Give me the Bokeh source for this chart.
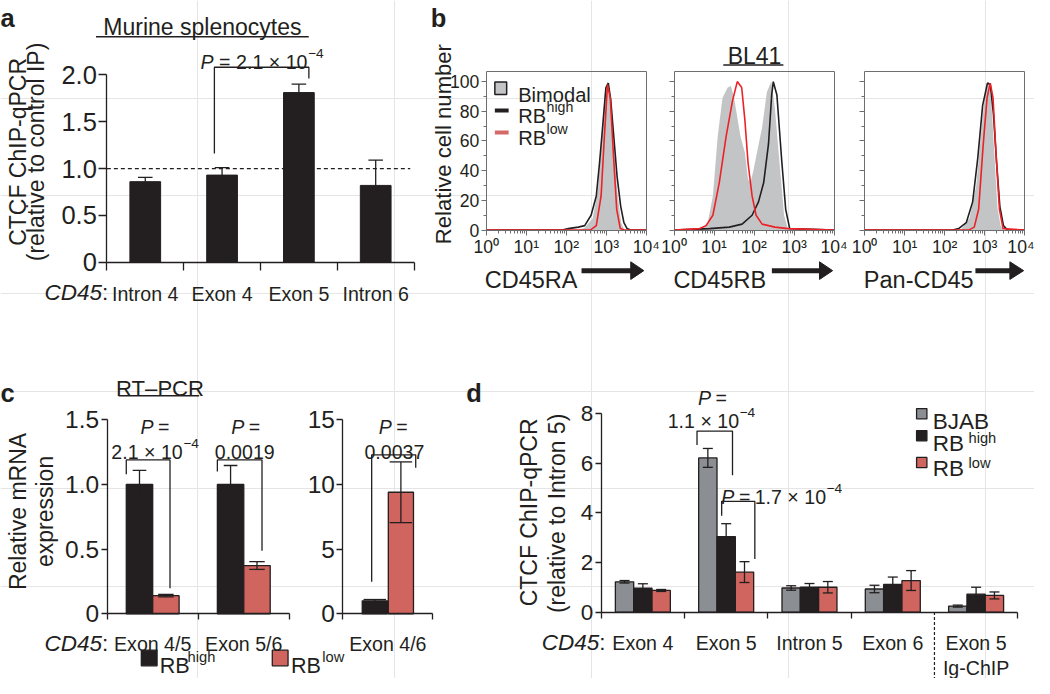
import numpy as np
from bokeh.plotting import figure
from bokeh.models import Range1d, LinearAxis, LogAxis, LogScale, FixedTicker
from bokeh.core.properties import value
from bokeh.embed import file_html
from bokeh.resources import INLINE

# ---------------- panel a : murine splenocytes CTCF ChIP ----------------
a_sites = ["Intron 4", "Exon 4", "Exon 5", "Intron 6"]
a_ctcf = [0.86, 0.93, 1.81, 0.82]
a_ctcf_err = [0.045, 0.08, 0.09, 0.27]
a_yticks = [0, 0.5, 1.0, 1.5, 2.0]
a_ytick_labels = ["0", "0.5", "1.0", "1.5", "2.0"]
a_control_level = 1.0

# ---------------- panel b : BL41 flow histograms (log10 intensity, % max) ----------------
b_xticks = [1, 10, 100, 1000, 10000]
b_xtick_labels = ["10⁰", "10¹", "10²", "10³", "10⁴"]
b_yticks = [0, 20, 40, 60, 80, 100]
b_ytick_labels = ["0", "20", "40", "60", "80", "100"]
b_top = 106.5

ra_bimodal_x = [2.30, 2.46, 2.66, 2.79, 2.88, 2.96, 3.03, 3.10, 3.19, 3.27, 3.37, 3.45]
ra_bimodal_y = [0, 1.5, 8, 27, 60, 91, 100, 91, 58, 27, 5, 0]
ra_high_x = [0, 1.90, 2.05, 2.30, 2.46, 2.62, 2.75, 2.83, 2.91, 2.99, 3.05, 3.11, 3.19, 3.27, 3.36, 3.44, 3.52, 3.60, 4]
ra_high_y = [0, 0, 1, 2, 3, 10, 23, 45, 70, 96, 99, 88, 62, 36, 16, 5, 1, 0, 0]
ra_low_x = [0, 2.60, 2.75, 2.87, 2.95, 3.03, 3.10, 3.18, 3.26, 3.35, 3.45, 4]
ra_low_y = [0, 0, 3, 23, 62, 98, 89, 50, 14, 1, 0, 0]

rb_bimodal_x = [0.60, 0.68, 0.84, 0.97, 1.09, 1.21, 1.34, 1.42, 1.50, 1.58, 1.66, 1.77, 1.85,
                1.91, 1.99, 2.07, 2.20, 2.32, 2.43, 2.52, 2.65, 2.75, 2.84, 2.90]
rb_bimodal_y = [0, 1, 5, 23, 63, 89, 96, 97, 89, 76, 63, 52, 34, 32, 41, 52, 69, 93, 100, 82, 41, 10, 1, 0]
rb_high_x = [0, 0.89, 1.38, 1.70, 1.95, 2.11, 2.24, 2.36, 2.44, 2.48, 2.57, 2.69, 2.79, 2.89, 4]
rb_high_y = [0, 1, 2, 4, 10, 19, 32, 58, 91, 100, 91, 47, 14, 1, 0]
rb_low_x = [0, 0.64, 0.80, 0.97, 1.13, 1.30, 1.46, 1.58, 1.69, 1.77, 1.85, 1.95, 2.05, 2.20, 2.52, 2.85, 4]
rb_low_y = [0, 1, 3, 10, 32, 63, 87, 100, 96, 74, 45, 23, 10, 4, 2, 1, 0]

pan_bimodal_x = [2.40, 2.62, 2.79, 2.91, 3.03, 3.10, 3.17, 3.25, 3.32, 3.40, 3.47]
pan_bimodal_y = [0, 8, 30, 65, 97, 100, 85, 48, 15, 3, 0]
pan_high_x = [0, 2.20, 2.35, 2.54, 2.70, 2.83, 2.95, 3.07, 3.14, 3.22, 3.30, 3.38, 3.47, 3.57, 4]
pan_high_y = [0, 0, 1, 5, 19, 49, 84, 99, 98, 78, 45, 16, 3, 0, 0]
pan_low_x = [0, 2.60, 2.74, 2.85, 2.96, 3.06, 3.14, 3.21, 3.29, 3.37, 3.46, 4]
pan_low_y = [0, 0, 2, 14, 56, 89, 99, 89, 49, 14, 1, 0]

# ---------------- panel c : RT-PCR ----------------
c_sites = ["Exon 4/5", "Exon 5/6"]
c_high = [1.0, 1.0]
c_high_err = [0.11, 0.147]
c_low = [0.14, 0.373]
c_low_err = [0.01, 0.03]
c_yticks = [0, 0.5, 1.0, 1.5]
c_ytick_labels = ["0", "0.5", "1.0", "1.5"]
c2_sites = ["Exon 4/6"]
c2_high = [1.0]
c2_high_err = [0.1]
c2_low = [9.4]
c2_low_err = [2.35]
c2_yticks = [0, 5, 10, 15]

# ---------------- panel d : CTCF ChIP in BJAB / RB-high / RB-low ----------------
d_sites = ["Exon 4", "Exon 5", "Intron 5", "Exon 6", "Exon 5"]
d_sites_second_line = ["", "", "", "", "Ig-ChIP"]
d_bjab = [1.22, 6.21, 0.97, 0.93, 0.24]
d_bjab_err = [0.05, 0.38, 0.09, 0.15, 0.04]
d_high = [0.96, 3.04, 1.00, 1.11, 0.72]
d_high_err = [0.18, 0.52, 0.15, 0.30, 0.28]
d_low = [0.87, 1.61, 1.00, 1.27, 0.67]
d_low_err = [0.04, 0.42, 0.23, 0.40, 0.14]
d_yticks = [0, 2, 4, 6, 8]

# ---------------- styling ----------------
FONT = "Liberation Sans"
INK = "#231f20"
RED_BAR = "#d0645e"
GRAY_BAR = "#8b8e92"
HIST_FILL = "#c3c4c6"
HIST_RED = "#ec2227"
LEG_RED = "#d46a68"
BOX = "#6d6e71"
FS = 0.98

W_REF, H_REF = 1050, 694     # layout reference space


def xr_lin(d0, d1, p0, p1):
    k = (d1 - d0) / (p1 - p0)
    return Range1d(start=d0 - p0 * k, end=d0 + (W_REF - p0) * k)


def yr_lin(d0, d1, q0, q1):
    k = (d1 - d0) / (q0 - q1)
    return Range1d(start=d0 - (H_REF - q0) * k, end=d0 + q0 * k)


def xr_log(e0, e1, p0, p1):
    k = (e1 - e0) / (p1 - p0)
    return Range1d(start=10 ** (e0 - p0 * k), end=10 ** (e0 + (W_REF - p0) * k))


p = figure(width=1034, height=678, x_range=Range1d(0, W_REF), y_range=Range1d(H_REF, 0),
           output_backend="svg", toolbar_location=None, x_axis_location=None,
           y_axis_location=None, min_border=0, outline_line_color=None,
           background_fill_color="white", border_fill_color="white")

p.extra_x_ranges = {
    "a": xr_lin(0, 4, 108, 420),
    "b1": xr_log(0, 4, 493.3, 655.8),
    "b2": xr_log(0, 4, 684.0, 846.5),
    "b3": xr_log(0, 4, 877.5, 1040.0),
    "c1": xr_lin(0, 2, 108.3, 293.3),
    "c2": xr_lin(0, 1, 347.7, 439.0),
    "d": xr_lin(0, 5, 610, 1033),
}
p.extra_y_ranges = {
    "a": yr_lin(0, 2, 268, 76),
    "b": yr_lin(0, 100, 235, 83),
    "c1": yr_lin(0, 1.5, 627.7, 429.3),
    "c2": yr_lin(0, 15, 627.7, 429.3),
    "d": yr_lin(0, 8, 626, 422.7),
}
p.extra_x_scales = {"b1": LogScale(), "b2": LogScale(), "b3": LogScale()}


def fsz(s):
    return f"{s * FS:.1f}px"


def txt(x, y, s, size, align="left", style="normal", angle=0.0, color=INK, xr="default", yr="default"):
    p.text(x=[x], y=[y], text=[s], x_range_name=xr, y_range_name=yr,
           text_font=value(FONT), text_font_size=value(fsz(size)), text_font_style=style,
           text_align=align, text_baseline="alphabetic", angle=angle, text_color=color)


def style_axis(ax, size, color=INK, width=1.3):
    ax.axis_line_color = color
    ax.axis_line_width = width
    ax.major_tick_line_color = color
    ax.major_tick_line_width = width
    ax.minor_tick_line_color = color
    ax.minor_tick_line_width = width
    ax.major_label_text_font = FONT
    ax.major_label_text_font_size = fsz(size)
    ax.major_label_text_color = INK
    ax.major_tick_in = 0
    ax.minor_tick_in = 0


def y_axis(rng_x, rng_y, loc, bounds, ticks, labels, size, tick_out, minor=(), color=INK, width=1.3, minor_out=0, standoff=3):
    ax = LinearAxis(x_range_name=rng_x, y_range_name=rng_y, fixed_location=loc, bounds=bounds,
                    ticker=FixedTicker(ticks=list(ticks), minor_ticks=list(minor)),
                    major_label_overrides={float(t): l for t, l in zip(ticks, labels)},
                    major_label_standoff=standoff)
    style_axis(ax, size, color, width)
    ax.major_tick_out = tick_out
    ax.minor_tick_out = minor_out
    p.add_layout(ax, "left")
    return ax


def cat_axis(rng_x, rng_y, n, labels, size, tick_out, boundaries, standoff):
    centers = [i + 0.5 for i in range(n)]
    ax = LinearAxis(x_range_name=rng_x, y_range_name=rng_y, fixed_location=0, bounds=(0, n),
                    ticker=FixedTicker(ticks=centers, minor_ticks=list(boundaries)),
                    major_label_overrides={float(c): l for c, l in zip(centers, labels)},
                    major_label_standoff=standoff)
    style_axis(ax, size)
    ax.major_tick_out = 0
    ax.minor_tick_out = tick_out
    p.add_layout(ax, "below")
    return ax


def errbars(x, mean, err, cap, xr, yr, width=1.3):
    x = np.asarray(x, float)
    m = np.asarray(mean, float)
    e = np.asarray(err, float)
    kw = dict(x_range_name=xr, y_range_name=yr, line_color=INK, line_width=width)
    p.segment(x0=x, y0=m - e, x1=x, y1=m + e, **kw)
    p.segment(x0=x - cap / 2, y0=m + e, x1=x + cap / 2, y1=m + e, **kw)
    p.segment(x0=x - cap / 2, y0=m - e, x1=x + cap / 2, y1=m - e, **kw)


def bracket(xs, ys, xr, yr):
    p.line(x=xs, y=ys, x_range_name=xr, y_range_name=yr, line_color=INK, line_width=1.3)


def p_eq(cx, y, size=20):
    # italic "P" and "=" centred on cx
    txt(cx - 2.5, y, "P", size, align="right", style="italic")
    txt(cx + 2, y, "=", size)


def sci(x_end, y, mant, exp, size=20):
    # "mant × 10" ending at x_end with a raised exponent after it
    txt(x_end, y, f"{mant} × 10", size, align="right")
    txt(x_end + 0.5, y - 8.4, exp, 14)


def underline(x0, x1, y):
    p.segment(x0=[x0], y0=[y], x1=[x1], y1=[y], line_color=INK, line_width=1.5)


def big_arrow(x0, x1, xh, y):
    p.segment(x0=[x0], y0=[y], x1=[x1 + 1], y1=[y], line_color=INK, line_width=5, line_cap="butt")
    p.patch(x=[x1, xh, x1], y=[y - 9, y, y + 9], fill_color=INK, line_color=INK)


# =============================== panel a ===============================
ax_x = np.arange(len(a_sites)) + 0.5
p.vbar(x=ax_x, top=a_ctcf, bottom=0, width=0.4, x_range_name="a", y_range_name="a",
       fill_color=INK, line_color=INK, line_width=1)
errbars(ax_x, a_ctcf, a_ctcf_err, 0.19, "a", "a")
p.segment(x0=[0], y0=[a_control_level], x1=[3.95], y1=[a_control_level], x_range_name="a",
          y_range_name="a", line_color=INK, line_width=1.2, line_dash="4 3")
y_axis("a", "a", 0, (0, 2), a_yticks, a_ytick_labels, 26, 8, standoff=2)
cat_axis("a", "a", 4, a_sites, 20, 8, [0, 1, 2, 3, 4], 13)
bracket([1.40, 1.40, 2.63, 2.63], [1.16, 2.08, 2.08, 1.96], "a", "a")

txt(0, 18, "a", 26, style="bold")
txt(205, 27, "Murine splenocytes", 23.5, align="center")
underline(97, 313, 37)
txt(17.5, 155, "CTCF ChIP-qPCR", 23.5, align="center", angle=np.pi / 2)
txt(36.5, 155, "(relative to control IP)", 23.5, align="center", angle=np.pi / 2)
txt(103, 299, "CD45", 23, align="right", style="italic")
txt(103, 299, ":", 23)
txt(203, 63, "P", 20, style="italic")
txt(222, 63, "=", 20)
sci(311.7, 63, "2.1", "−4")

# =============================== panel b ===============================
b_minor_x = [k * 10 ** n for n in range(4) for k in range(2, 10)]
hist_sets = [
    ("b1", ra_bimodal_x, ra_bimodal_y, ra_high_x, ra_high_y, ra_low_x, ra_low_y, True),
    ("b2", rb_bimodal_x, rb_bimodal_y, rb_high_x, rb_high_y, rb_low_x, rb_low_y, False),
    ("b3", pan_bimodal_x, pan_bimodal_y, pan_high_x, pan_high_y, pan_low_x, pan_low_y, False),
]
for key, gx, gy, hx, hy, lx, ly, labelled in hist_sets:
    p.varea(x=10 ** np.asarray(gx), y1=0, y2=gy, x_range_name=key, y_range_name="b",
            fill_color=HIST_FILL)
    p.line(x=10 ** np.asarray(hx), y=hy, x_range_name=key, y_range_name="b",
           line_color=INK, line_width=1.6)
    p.line(x=10 ** np.asarray(lx), y=ly, x_range_name=key, y_range_name="b",
           line_color=HIST_RED, line_width=1.6)
    y_axis(key, "b", 1, (0, b_top), b_yticks,
           b_ytick_labels if labelled else [""] * len(b_yticks), 18, 5,
           minor=[10, 30, 50, 70, 90], color=BOX, width=1, minor_out=3, standoff=2)
    bx = LogAxis(x_range_name=key, y_range_name="b", fixed_location=0, bounds=(1, 1e4),
                 ticker=FixedTicker(ticks=b_xticks, minor_ticks=b_minor_x),
                 major_label_overrides={float(t): l for t, l in zip(b_xticks, b_xtick_labels)},
                 major_label_standoff=2)
    style_axis(bx, 18, BOX, 1)
    bx.major_tick_out = 5
    bx.minor_tick_out = 3
    p.add_layout(bx, "below")
    rx = LinearAxis(x_range_name=key, y_range_name="b", fixed_location=1e4, bounds=(0, b_top),
                    ticker=FixedTicker(ticks=[]))
    style_axis(rx, 10, BOX, 1)
    p.add_layout(rx, "right")
    tx = LogAxis(x_range_name=key, y_range_name="b", fixed_location=b_top, bounds=(1, 1e4),
                 ticker=FixedTicker(ticks=[]))
    style_axis(tx, 10, BOX, 1)
    p.add_layout(tx, "above")

txt(437, 18, "b", 26, style="bold")
txt(450, 147, "Relative cell number", 22.5, align="center", angle=np.pi / 2)
txt(765.7, 57, "BL41", 23.5, align="center")
underline(734, 795, 66)
# legend
p.rect(x=[508], y=[89.8], width=12, height=13, fill_color=HIST_FILL, line_color=INK, line_width=1.5)
p.segment(x0=[502], y0=[112.5], x1=[516], y1=[112.5], line_color=INK, line_width=4)
p.segment(x0=[502], y0=[135], x1=[516], y1=[135], line_color=LEG_RED, line_width=4)
txt(525.7, 96.7, "Bimodal", 20.5)
txt(525.7, 118.5, "RB", 20.5)
txt(554.5, 109, "high", 14.5)
txt(525.7, 140.5, "RB", 20.5)
txt(554.5, 132, "low", 14.5)
# x labels with arrows
txt(491.7, 286, "CD45RA", 24)
big_arrow(590, 640, 653.3, 276.5)
txt(683.3, 286, "CD45RB", 24)
big_arrow(783.3, 831.7, 845, 276.5)
txt(876.7, 286, "Pan-CD45", 24)
big_arrow(990, 1025, 1039, 276.5)

# =============================== panel c ===============================
cx = np.arange(len(c_sites)) + 0.5
p.vbar(x=cx - 0.145, top=c_high, width=0.29, x_range_name="c1", y_range_name="c1",
       fill_color=INK, line_color=INK, line_width=1.3)
p.vbar(x=cx + 0.145, top=c_low, width=0.29, x_range_name="c1", y_range_name="c1",
       fill_color=RED_BAR, line_color=INK, line_width=1.3)
errbars(cx - 0.145, c_high, c_high_err, 0.15, "c1", "c1")
errbars(cx + 0.145, c_low, c_low_err, 0.17, "c1", "c1")
y_axis("c1", "c1", 0, (0, 1.5), c_yticks, c_ytick_labels, 25, 6, standoff=2)
cat_axis("c1", "c1", 2, c_sites, 20, 6, [0, 1, 2], 13)
bracket([0.21, 0.21, 0.69, 0.69], [1.08, 1.19, 1.19, 0.197], "c1", "c1")
bracket([1.21, 1.21, 1.70, 1.70], [1.10, 1.19, 1.19, 0.487], "c1", "c1")

c2x = np.arange(len(c2_sites)) + 0.5
p.vbar(x=c2x - 0.145, top=c2_high, width=0.28, x_range_name="c2", y_range_name="c2",
       fill_color=INK, line_color=INK, line_width=1.3)
p.vbar(x=c2x + 0.145, top=c2_low, width=0.28, x_range_name="c2", y_range_name="c2",
       fill_color=RED_BAR, line_color=INK, line_width=1.3)
errbars(c2x - 0.145, c2_high, c2_high_err, 0.25, "c2", "c2")
errbars(c2x + 0.145, c2_low, c2_low_err, 0.25, "c2", "c2")
y_axis("c2", "c2", 0, (0, 15), c2_yticks, [str(t) for t in c2_yticks], 25, 6, standoff=2)
cat_axis("c2", "c2", 1, c2_sites, 20, 6, [0, 1], 13)
bracket([0.32, 0.32, 0.81, 0.81], [2.47, 12.3, 12.3, 11.3], "c2", "c2")

txt(0, 402, "c", 26, style="bold")
txt(162, 397.5, "RT–PCR", 22.5, align="center")
underline(120, 201.7, 404.5)
txt(18, 523, "Relative mRNA", 23.5, align="center", angle=np.pi / 2)
txt(45, 523, "expression", 23.5, align="center", angle=np.pi / 2)
txt(103, 658, "CD45", 23, align="right", style="italic")
txt(103, 658, ":", 23)
p_eq(158, 436.7)
sci(185, 461.7, "2.1", "−4")
p_eq(250, 436.7)
txt(248, 461.7, "0.0019", 20, align="center")
p_eq(400, 436.7)
txt(400, 461.7, "0.0037", 20, align="center")
# bottom legend
p.rect(x=[151, 284], y=[673, 673], width=16, height=16, fill_color=[INK, RED_BAR],
       line_color=INK, line_width=1.3)
txt(161.7, 681, "RB", 22)
txt(190, 672, "high", 15)
txt(295, 681, "RB", 22)
txt(326.7, 672, "low", 15)

# =============================== panel d ===============================
dx = np.arange(len(d_sites)) + 0.5
for off, vals, errs, col in [(-0.22, d_bjab, d_bjab_err, GRAY_BAR), (0.0, d_high, d_high_err, INK),
                             (0.22, d_low, d_low_err, RED_BAR)]:
    p.vbar(x=dx + off, top=vals, width=0.22, x_range_name="d", y_range_name="d",
           fill_color=col, line_color=INK, line_width=1.3)
    errbars(dx + off, vals, errs, 0.12, "d", "d")
y_axis("d", "d", 0, (0, 8), d_yticks, [str(t) for t in d_yticks], 23, 6, standoff=2)
cat_axis("d", "d", 5, d_sites, 20, 6, [0, 1, 2, 3, 5], 14)
p.text(x=dx, y=[-2.25] * len(dx), text=d_sites_second_line, x_range_name="d", y_range_name="d",
       text_font=value(FONT), text_font_size=value(fsz(20)), text_align="center",
       text_baseline="alphabetic", text_color=INK)
p.segment(x0=[4], y0=[0], x1=[4], y1=[-2.8], x_range_name="d", y_range_name="d",
          line_color=INK, line_width=1.2, line_dash="3 2")
bracket([1.15, 1.15, 1.576, 1.576], [6.73, 7.29, 7.29, 5.51], "d", "d")
bracket([1.446, 1.446, 1.844, 1.844], [3.88, 4.46, 4.46, 2.14], "d", "d")

txt(473, 402, "d", 26, style="bold")
txt(536.7, 524, "CTCF ChIP-qPCR", 23.5, align="center", angle=np.pi / 2)
txt(565, 525, "(relative to Intron 5)", 23.5, align="center", angle=np.pi / 2)
txt(608, 656.7, "CD45", 23, align="right", style="italic")
txt(608, 656.7, ":", 23)
p_eq(724, 407.3)
sci(750, 430, "1.1", "−4")
txt(732, 508.3, "P", 20, style="italic")
txt(750, 508.3, "=", 20)
sci(838.3, 508.3, "1.7", "−4")
# legend
p.rect(x=[935.5, 935.5, 935.5], y=[423, 445.5, 473], width=10.5, height=10.5,
       fill_color=[GRAY_BAR, INK, RED_BAR], line_color=INK, line_width=1.3)
txt(946.7, 431, "BJAB", 23)
txt(946.7, 453, "RB", 23)
txt(983, 447.4, "high", 15)
txt(946.7, 479.3, "RB", 23)
txt(983, 473.7, "low", 15)

open("out.html", "w").write(file_html(p, INLINE))
